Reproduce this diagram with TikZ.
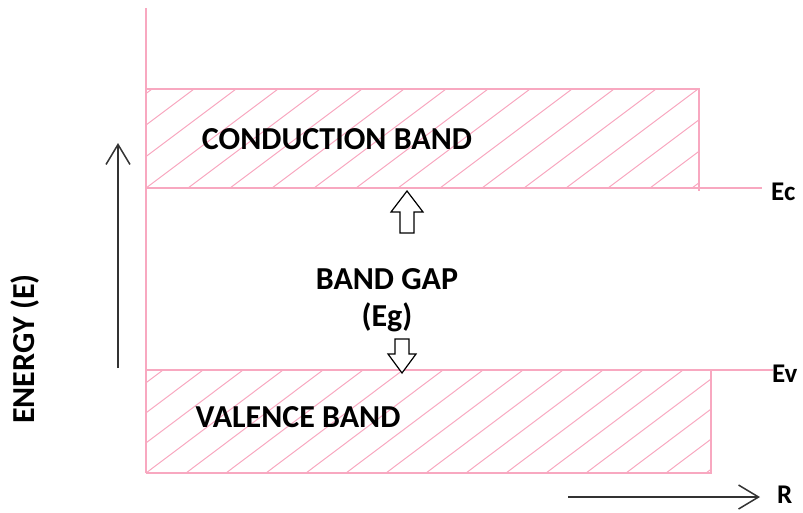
\documentclass[tikz,border=0pt]{standalone}
\usepackage{fontspec}
\setmainfont{Carlito}
\usetikzlibrary{arrows.meta}
\definecolor{bandpink}{RGB}{248,168,192}
\tikzset{
  bandline/.style={draw=bandpink, line width=1.8pt},
  hatchline/.style={draw=bandpink, line width=1pt},
  axisarrow/.style={draw=black!80, line width=1.5pt,
    -{Straight Barb[length=20pt,width=24pt,line width=1.5pt]}},
  gaparrow/.style={draw=black, line width=1.2pt, fill=white},
  lbl/.style={font=\bfseries\fontsize{32}{36}\selectfont, inner sep=0pt},
  edgelbl/.style={font=\bfseries\fontsize{27}{30}\selectfont, inner sep=0pt,
    anchor=base west},
}
\begin{document}
\begin{tikzpicture}[x=1pt,y=-1pt]
\useasboundingbox (0,0) rectangle (803,512);

% hatching inside the conduction band
\begin{scope}
  \clip (146,89) rectangle (699,188);
  \foreach \i in {-4,...,14} {
    \draw[hatchline] (146+\i*42,188) -- ++(132,-99);
  }
\end{scope}
% hatching inside the valence band
\begin{scope}
  \clip (146,370) rectangle (711,473);
  \foreach \i in {-4,...,15} {
    \draw[hatchline] (146+\i*40,473) -- ++(137,-103);
  }
\end{scope}

% band outlines, band edges and energy axis
\coordinate (axtop) at (146,8);
\coordinate (axbot) at (146,473);
\coordinate (ecend) at (762,188);
\coordinate (evend) at (773,370);
\draw[bandline] (axtop) -- (axbot);
\draw[bandline] (146,89) -- (699,89) -- (699,191);
\draw[bandline] (146,188) -- (ecend);
\draw[bandline] (146,370) -- (evend);
\draw[bandline] (711,370) -- (711,473) -- (axbot);

% edge labels
\node[edgelbl] (ec) at (771,200) {Ec};
\node[edgelbl] (ev) at (772,382) {Ev};

% band names
\node[lbl] (cb) at (337,139) {CONDUCTION BAND};
\node[lbl] (vb) at (298,417) {VALENCE BAND};
\node[lbl] (gap) at (387,279) {BAND GAP};
\node[lbl] (eg) at (387,317) {(Eg)};

% hollow arrows pointing at the band edges
\draw[gaparrow] (407,191) -- (423,212) -- (414,212) -- (414,233)
  -- (400,233) -- (400,212) -- (391,212) -- cycle;
\draw[gaparrow] (402,373) -- (416,354) -- (409,354) -- (409,339)
  -- (395,339) -- (395,354) -- (388,354) -- cycle;

% energy axis and distance axis
\coordinate (eb) at (118,368);
\coordinate (et) at (118,143);
\draw[axisarrow] (eb) -- (et);
\node[lbl, rotate=90] (energy) at (25,349) {ENERGY (E)};

\coordinate (rs) at (568,497);
\coordinate (re) at (760,497);
\draw[axisarrow] (rs) -- (re);
\node[edgelbl] (r) at (777,503) {R};
\end{tikzpicture}
\end{document}
